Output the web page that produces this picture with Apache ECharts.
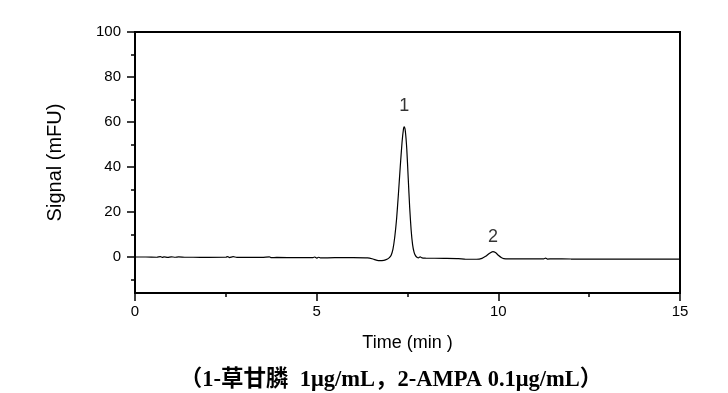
<!DOCTYPE html>
<html><head><meta charset="utf-8">
<script src="https://cdn.jsdelivr.net/npm/echarts@6/dist/echarts.min.js"></script>
<style>html,body{margin:0;padding:0;background:#fff}#c{width:728px;height:393px}</style>
</head><body><div id="c"></div>
<script>
// Chromatogram data
const timeMin = [0, 0.3, 0.6, 0.7, 0.75, 0.8, 0.9, 1.0, 1.1, 1.2, 1.4, 1.6, 2.0, 2.5, 2.55, 2.6, 2.7, 2.8, 3.0, 3.5, 3.7, 3.75, 3.9, 4.5, 4.9, 4.95, 5.0, 5.05, 5.1, 5.5, 6.0, 6.4, 6.55, 6.7, 6.85, 6.95, 7.0, 7.05, 7.1, 7.15, 7.2, 7.25, 7.3, 7.35, 7.39, 7.41, 7.44, 7.48, 7.52, 7.56, 7.6, 7.64, 7.68, 7.72, 7.76, 7.8, 7.85, 7.9, 8.0, 8.5, 8.9, 9.1, 9.4, 9.55, 9.65, 9.75, 9.85, 9.92, 10.0, 10.08, 10.15, 10.3, 11.0, 11.25, 11.3, 11.35, 11.5, 12.0, 13.0, 14.0, 15.0];
const signal = [0.0, 0.0, -0.1, 0.15, -0.2, 0.1, -0.15, 0.1, -0.1, 0.05, -0.1, -0.1, -0.15, -0.1, 0.2, -0.25, 0.15, -0.15, -0.1, -0.2, 0.1, -0.3, -0.2, -0.3, -0.3, 0.0, -0.5, -0.1, -0.4, -0.3, -0.3, -0.4, -0.9, -1.6, -1.5, -0.9, -0.3, 0.8, 3.5, 9, 17, 28, 40, 51, 57, 57.8, 56, 48, 35, 22, 12, 5.5, 2.2, 0.6, -0.1, -0.4, 0.1, -0.4, -0.5, -0.6, -0.7, -1.0, -1.0, -0.6, 0.3, 1.6, 2.4, 2.0, 0.8, -0.2, -0.7, -0.8, -0.8, -0.8, -0.5, -0.9, -0.8, -0.9, -0.9, -0.9, -0.9];

const peakTimes = [7.41, 9.85];
const peakSignals = [57.8, 2.4];
const peakNames = ['1', '2'];

const yTickValues = [0, 20, 40, 60, 80, 100];
const yMinorValues = [-10, 10, 30, 50, 70, 90];
const xTickValues = [0, 5, 10, 15];

const xTitle = 'Time (min )';
const yTitle = 'Signal (mFU)';
const caption = '（1-草甘膦  1μg/mL，2-AMPA 0.1μg/mL）';

const chart = echarts.init(document.getElementById('c'), null, {renderer: 'canvas'});
const font = 'Liberation Sans, Arial, sans-serif';

chart.setOption({
  animation: false,
  backgroundColor: '#fff',
  grid: {left: 135, right: 48, top: 32, bottom: 100, show: true, borderColor: '#000', borderWidth: 2, backgroundColor: 'transparent'},
  xAxis: {
    type: 'value', min: 0, max: 15, interval: 5,
    name: xTitle, nameLocation: 'middle', nameGap: 41,
    nameTextStyle: {fontFamily: font, fontSize: 18, color: '#000'},
    axisLine: {show: true, onZero: false, lineStyle: {color: '#000', width: 2}},
    axisTick: {show: true, length: 8, lineStyle: {color: '#000', width: 1.5}},
    minorTick: {show: true, splitNumber: 2, length: 4, lineStyle: {color: '#000', width: 1.5}},
    axisLabel: {fontFamily: font, fontSize: 15, color: '#000', margin: 11, customValues: xTickValues},
    splitLine: {show: false}
  },
  yAxis: [{
    type: 'value', min: -16, max: 100,
    name: yTitle, nameLocation: 'middle', nameGap: 70, nameRotate: 90,
    nameTextStyle: {fontFamily: font, fontSize: 20, color: '#000'},
    axisLine: {show: true, onZero: false, lineStyle: {color: '#000', width: 2}},
    axisTick: {show: true, length: 8, customValues: yTickValues, lineStyle: {color: '#000', width: 1.5}},
    axisLabel: {fontFamily: font, fontSize: 15, color: '#000', margin: 14, customValues: yTickValues},
    splitLine: {show: false}
  }, {
    type: 'value', min: -16, max: 100, position: 'left', offset: 0,
    axisLine: {show: false, onZero: false},
    axisTick: {show: true, length: 4, customValues: yMinorValues, lineStyle: {color: '#000', width: 1.5}},
    axisLabel: {show: false},
    splitLine: {show: false}
  }],
  graphic: [{
    type: 'text', x: 391, y: 380,
    style: {text: caption, textAlign: 'center', textVerticalAlign: 'middle', fontFamily: 'Liberation Serif, Noto Sans CJK SC, serif', fontWeight: 'bold', fontSize: 22.5, fill: '#000'}
  }],
  series: [{
    type: 'line', data: timeMin.map((t, i) => [t, signal[i]]),
    showSymbol: false, smooth: 0.2, lineStyle: {color: '#000', width: 1.2}, z: 3
  }, {
    type: 'scatter', symbolSize: 0,
    data: peakTimes.map((t, i) => ({name: peakNames[i], value: [t, peakSignals[i]], label: {distance: i === 0 ? 12 : 6}})),
    label: {show: true, position: 'top', formatter: '{b}', fontFamily: font, fontSize: 18, color: '#000'}
  }]
});
</script></body></html>
